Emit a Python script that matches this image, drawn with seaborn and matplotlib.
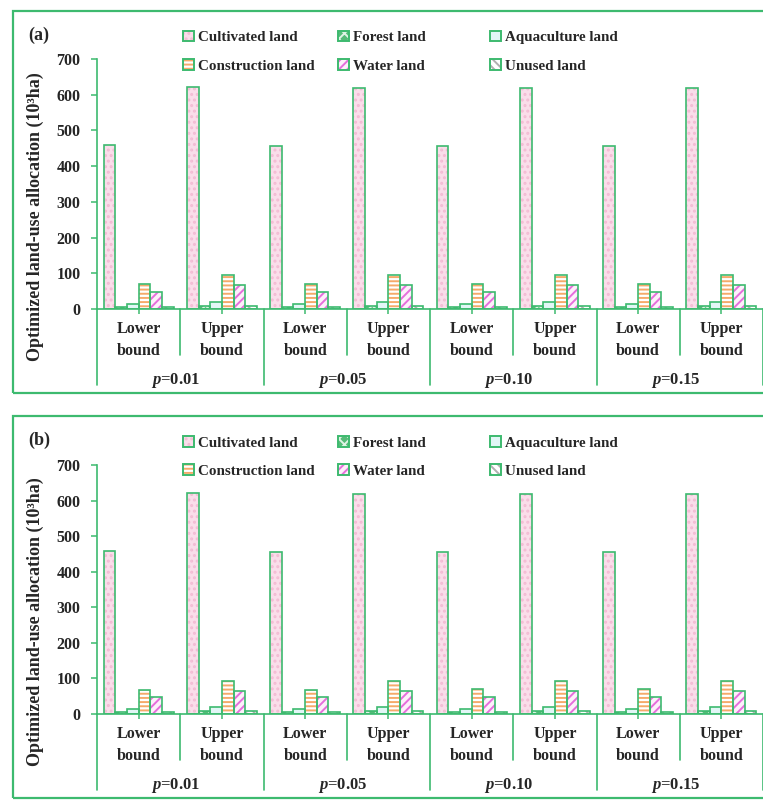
import numpy as np
import pandas as pd
import seaborn as sns
import matplotlib.pyplot as plt
from matplotlib.patches import Rectangle
from matplotlib.legend_handler import HandlerTuple
from matplotlib.transforms import blended_transform_factory

# chart data
land_types = ['Cultivated land', 'Forest land', 'Aquaculture land',
              'Construction land', 'Water land', 'Unused land']
p_levels = ['0.01', '0.05', '0.10', '0.15']
bounds = ['Lower\nbound', 'Upper\nbound']

# panel (a): lower/upper for each p level
a_cultivated = [459, 621, 457, 620, 457, 620, 457, 620]
a_forest = [6, 9, 6, 9, 6, 9, 6, 9]
a_aquaculture = [14, 19, 14, 19, 14, 19, 14, 19]
a_construction = [69, 94, 69, 94, 70, 94, 70, 94]
a_water = [48, 67, 48, 67, 48, 67, 48, 67]
a_unused = [5, 8, 5, 8, 5, 8, 5, 8]

# panel (b)
b_cultivated = [458, 620, 456, 619, 456, 619, 456, 619]
b_forest = [6, 9, 6, 9, 6, 9, 6, 9]
b_aquaculture = [14, 19, 14, 19, 14, 19, 14, 19]
b_construction = [68, 93, 68, 93, 70, 93, 70, 93]
b_water = [47, 66, 47, 66, 48, 66, 48, 66]
b_unused = [5, 8, 5, 8, 5, 8, 5, 8]

# styles
green = '#3DBA6F'
fill_colors = ['#FADDEA', '#56BB78', '#E2F6F6', '#FFFFFF', '#FDF0FA', '#FFFFFF']
hatches = ['...', 'xxx', None, '----', '////', '\\\\\\\\']
hatch_colors = ['#F3BCD4', '#DFF3E5', None, '#F5AA6A', '#E56EDB', '#B0B0B0']

sns.set_theme(style='white')
plt.rcParams['font.family'] = ['Liberation Serif', 'DejaVu Serif']
plt.rcParams['font.weight'] = 'bold'
plt.rcParams['mathtext.fontset'] = 'custom'
plt.rcParams['mathtext.it'] = 'Liberation Serif:italic:bold'
plt.rcParams['mathtext.rm'] = 'Liberation Serif:bold'
plt.rcParams['hatch.linewidth'] = 1.4

W, H = 763, 805
fig = plt.figure(figsize=(W / 100, H / 100), dpi=100)

cases = [f'{b} p={p}' for p in p_levels for b in ['L', 'U']]


def draw_panel(values, zero_px, top_px, off, tag):
    ax = fig.add_axes([97 / W, 1 - zero_px / H, 666 / W, (zero_px - top_px) / H])
    df = pd.DataFrame({
        'case': np.tile(cases, len(land_types)),
        'land': np.repeat(land_types, len(cases)),
        'value': np.concatenate(values),
    })
    sns.barplot(data=df, x='case', y='value', hue='land', order=cases,
                hue_order=land_types, palette=fill_colors, width=0.84,
                saturation=1, linewidth=0, errorbar=None, legend=False, ax=ax)

    # hatching and green outlines on every bar
    for cont, h, hc in zip(ax.containers, hatches, hatch_colors):
        for bar in cont:
            x, y, w, hgt = bar.get_x(), bar.get_y(), bar.get_width(), bar.get_height()
            z = bar.get_zorder()
            if h:
                ax.add_patch(Rectangle((x, y), w, hgt, fill=False, hatch=h,
                                       edgecolor=hc, lw=0, zorder=z + 0.1))
            ax.add_patch(Rectangle((x, y), w, hgt, fill=False,
                                   edgecolor=green, lw=1.2, zorder=z + 0.2))

    ax.set_xlim(-0.5, len(cases) - 0.5)
    ax.set_ylim(0, 700)
    ax.set_yticks(range(0, 701, 100))
    ax.set_xticks(range(len(cases)))
    ax.set_xticklabels([])
    ax.set_xlabel('')
    ax.set_ylabel('')
    ax.tick_params(axis='x', direction='inout', length=7, width=1.1, color=green, bottom=True)
    ax.tick_params(axis='y', direction='out', length=4, width=1.1, color=green,
                   pad=8, labelsize=11.5, left=True)
    for s in ['top', 'right']:
        ax.spines[s].set_visible(False)
    for s in ['left', 'bottom']:
        ax.spines[s].set_color(green)
        ax.spines[s].set_linewidth(1.2)

    # multi-level category axis
    trans = blended_transform_factory(ax.transData, ax.transAxes)
    ax_h = zero_px - top_px
    major = -76 / ax_h
    minor = -46 / ax_h
    for k in range(len(p_levels) + 1):
        ax.plot([2 * k - 0.5] * 2, [0, major], transform=trans, clip_on=False,
                color=green, lw=1.2)
    for k in range(len(p_levels)):
        ax.plot([2 * k + 0.5] * 2, [0, minor], transform=trans, clip_on=False,
                color=green, lw=1.2)
    for i in range(len(cases)):
        ax.text(i, -31 / ax_h, bounds[i % 2], transform=trans, ha='center',
                va='center', fontsize=11.5, linespacing=1.5)
    for k, p in enumerate(p_levels):
        ax.text(2 * k + 0.45, -71 / ax_h, f'$p$=' + p, transform=trans,
                ha='center', va='center', fontsize=12)

    # panel frame, tag and y label
    fig.add_artist(Rectangle((13 / W, 1 - (393 + off) / H), 770 / W, 382 / H,
                             transform=fig.transFigure, fill=False,
                             edgecolor=green, lw=1.6))
    fig.text(28 / W, 1 - (35 + off) / H, tag, ha='left', va='center', fontsize=13)
    fig.text(35 / W, 1 - (217 + off) / H, 'Optimized land-use allocation (10³ha)',
             rotation=90, ha='center', va='center', fontsize=13)

    # legend in three columns
    handles = []
    for fc, h, hc in zip(fill_colors, hatches, hatch_colors):
        parts = [Rectangle((0, 0), 1, 1, facecolor=fc, lw=0)]
        if h:
            parts.append(Rectangle((0, 0), 1, 1, fill=False, hatch=h, edgecolor=hc, lw=0))
        parts.append(Rectangle((0, 0), 1, 1, fill=False, edgecolor=green, lw=1.4))
        handles.append(tuple(parts))
    col_x = [183, 338, 490]
    for j in range(3):
        idx = [j, j + 3]
        fig.legend([handles[i] for i in idx], [land_types[i] for i in idx],
                   loc='upper left', bbox_to_anchor=(col_x[j] / W, 1 - (31 + off) / H),
                   frameon=False, borderpad=0, borderaxespad=0, handlelength=0.7,
                   handleheight=0.7, handletextpad=0.3, labelspacing=0.98,
                   prop={'size': 10.8, 'weight': 'bold'},
                   handler_map={tuple: HandlerTuple(ndivide=1, pad=0)})
    return ax


draw_panel([a_cultivated, a_forest, a_aquaculture, a_construction, a_water, a_unused],
           309, 59, 0, '(a)')
draw_panel([b_cultivated, b_forest, b_aquaculture, b_construction, b_water, b_unused],
           714, 465, 405, '(b)')

plt.savefig('out.png', dpi=100)
